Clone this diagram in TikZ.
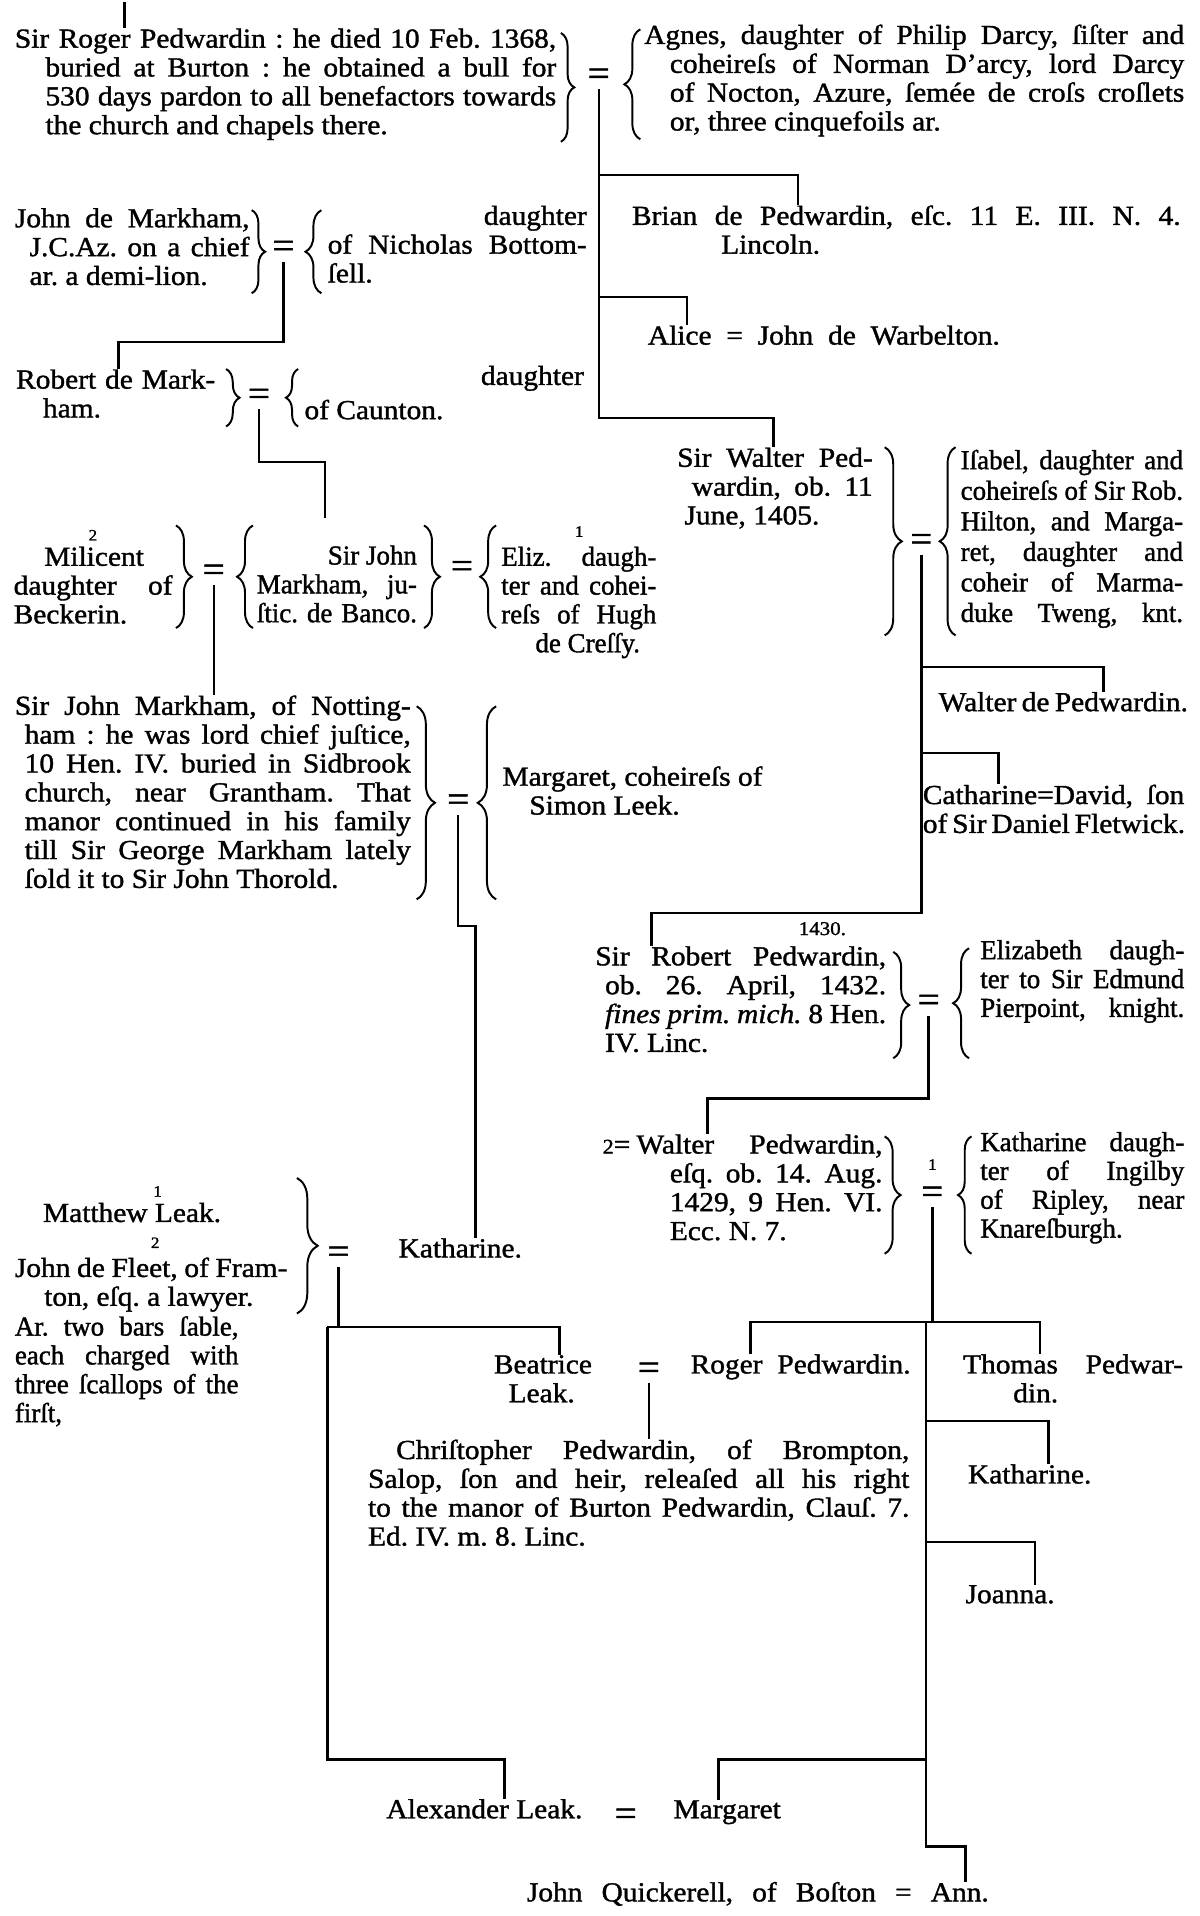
\documentclass[tikz,border=0pt]{standalone}
\usepackage{fontspec}
\setmainfont{Liberation Serif}[FakeStretch=1.07, FakeBold=1.3]
\newfontfamily\narrowfont{Liberation Serif}[FakeStretch=0.98, FakeBold=1.3]
\usetikzlibrary{decorations.pathreplacing}
\hbadness=10000 \hfuzz=300pt \vbadness=10000 \vfuzz=300pt

\newdimen\blkw
\newcommand\blk[3][23.6]{\vtop{\blkw=#2pt\baselineskip=#1pt\lineskiplimit=-40pt\lineskip=0pt #3}}
\newcommand\jline[2][0]{\hbox to\blkw{\hskip#1pt\relax #2}}
\newcommand\rline[2][0]{\hbox{\hskip#1pt\relax #2}}
\newcommand\rjline[1]{\hbox to\blkw{\hfil #1}}

\begin{document}
\begin{tikzpicture}[x=1pt, y=-1pt,
    every node/.style={inner sep=0pt, font=\fontsize{22.5}{23.6}\selectfont\frenchspacing},
    sup/.style={font=\fontsize{13}{14}\selectfont},
    eq/.style={font=\fontsize{30}{30}\selectfont},
    rule/.style={line width=2pt},
    rb/.style={decorate, decoration={brace, amplitude=#1}, line width=1.6pt},
    rb/.default=11pt,
    lb/.style={decorate, decoration={brace, mirror, amplitude=#1}, line width=1.6pt},
    lb/.default=11pt]
    \useasboundingbox (0,0) rectangle (982,1568);

    % Roger Pedwardin = Agnes
    \node[anchor=base west] (roger) at (12,39) {\blk{443}{%
        \jline{Sir Roger Pedwardin : he died 10 Feb. 1368,}
        \jline[25]{buried at Burton : he obtained a bull for}
        \jline[25]{530 days pardon to all benefactors towards}
        \rline[25]{the church and chapels there.}}};
    \draw[rb] (459,27) -- (459,116);
    \node[eq] (eqRA) at (490,63) {=};
    \draw[lb=13pt] (524,24) -- (524,114);
    \node[anchor=base west] (agnes) at (527,36) {\blk{442}{%
        \jline{Agnes, daughter of Philip Darcy, ſiſter and}
        \jline[21]{coheireſs of Norman D’arcy, lord Darcy}
        \jline[21]{of Nocton, Azure, ſemée de croſs croſlets}
        \rline[21]{or, three cinquefoils ar.}}};
    \coordinate (rgTop) at (102,2);
    \draw[rule] (rgTop) -- (rgTop |- roger.north);

    % children of Roger and Agnes
    \node[anchor=base west] (brian) at (517,184) {\blk{449}{%
        \jline{Brian de Pedwardin, eſc. 11 E. III. N. 4.}
        \rline[73]{Lincoln.}}};
    \node[anchor=base west] (alice) at (530,282) {\blk{288}{\jline{Alice = John de Warbelton.}}};
    \node[anchor=base east] (dau) at (478,315) {daughter};
    \node[anchor=base west] (walter) at (554,382) {\blk{160}{%
        \jline{Sir Walter Ped-}
        \jline[12]{wardin, ob. 11}
        \rline[6]{June, 1405.}}};
    \coordinate (brK) at (653,143);
    \coordinate (alK) at (562,243);
    \coordinate (wlK) at (633,342);
    \draw[rule, shorten <=3pt] (eqRA.south) |- (wlK) -- (wlK |- walter.north);
    \draw[rule] (eqRA.south |- brK) -- (brK) -- (brK |- brian.north);
    \draw[rule] (eqRA.south |- alK) -- (alK) -- (alK |- alice.north);

    % John de Markham = daughter of Nicholas Bottomsell
    \node[anchor=base west] (jmark) at (12,186) {\blk{192}{%
        \jline{John de Markham,}
        \jline[12]{J.C.Az. on a chief}
        \rline[12]{ar. a demi-lion.}}};
    \draw[rb] (206,172) -- (206,240);
    \node[eq] (eqJM) at (232,204) {=};
    \draw[lb=13pt] (263,172) -- (263,240);
    \node[anchor=base west] (nich) at (268,184) {\blk{212}{%
        \rjline{daughter}
        \jline{of Nicholas Bottom-}
        \rline{ſell.}}};

    % Robert de Markham = of Caunton
    \node[anchor=base west] (robert) at (13,318) {\blk{163}{%
        \jline{Robert de Mark-}
        \rline[22]{ham.}}};
    \coordinate (rbK) at (97,280);
    \draw[rule, shorten <=3pt] (eqJM.south) |- (rbK) -- (rbK |- robert.north);
    \draw[rb] (185,302) -- (185,349);
    \node[eq] (eqRM) at (212,325) {=};
    \draw[lb=10pt] (244,302) -- (244,349);
    \node[anchor=base west] (caunton) at (249,343) {of Caunton.};

    % Sir John Markham, justice
    \node[sup] (sup2a) at (76,438) {2};
    \node[anchor=base west] (milicent) at (11,463) {\blk{130}{%
        \rline[25]{Milicent}
        \jline{daughter of}
        \rline{Beckerin.}}};
    \draw[rb=13pt] (144,430) -- (144,514);
    \node[eq] (eqMJ) at (175,469) {=};
    \draw[lb=13pt] (207,430) -- (207,514);
    \node[anchor=base west] (sirjohn) at (210,462) {\blk{131}{\narrowfont
        \rjline{Sir John}
        \jline{Markham, ju-}
        \jline{ſtic. de Banco.}}};
    \draw[rb=13pt] (347,430) -- (347,514);
    \node[eq] (eqJE) at (378,466) {=};
    \draw[lb=13pt] (406,430) -- (406,514);
    \node[sup] (sup1a) at (474,435) {1};
    \node[anchor=base west] (eliz) at (410,463) {\blk{127}{\narrowfont
        \jline{Eliz. daugh-}
        \jline{ter and cohei-}
        \jline{reſs of Hugh}
        \rline[28]{de Creſſy.}}};
    \coordinate (sjK) at (266,378);
    \coordinate (sjE) at (266,424);
    \draw[rule, shorten <=3pt] (eqRM.south) |- (sjK) -- (sjE);

    % Sir Walter Pedwardin = Isabel
    \draw[rb=14pt] (724,366) -- (724,520);
    \node[eq] (eqWI) at (754,444) {=};
    \draw[lb=13pt] (782,366) -- (782,520);
    \node[anchor=base west] (isabel) at (786,384) {\blk[25]{182}{\narrowfont
        \jline{Iſabel, daughter and}
        \jline{coheireſs of Sir Rob.}
        \jline{Hilton, and Marga-}
        \jline{ret, daughter and}
        \jline{coheir of Marma-}
        \jline{duke Tweng, knt.}}};
    \node[anchor=base west] (wdp) at (768,582) {\blk{204}{\jline{Walter de Pedwardin.}}};
    \node[anchor=base west] (cath) at (755,658) {\blk{214}{%
        \jline{Catharine=David, ſon}
        \jline{of Sir Daniel Fletwick.}}};

    % Sir John Markham of Nottingham = Margaret
    \node[anchor=base west] (nott) at (12,585) {\blk{324}{%
        \jline{Sir John Markham, of Notting-}
        \jline[8]{ham : he was lord chief juſtice,}
        \jline[8]{10 Hen. IV. buried in Sidbrook}
        \jline[8]{church, near Grantham. That}
        \jline[8]{manor continued in his family}
        \jline[8]{till Sir George Markham lately}
        \rline[8]{ſold it to Sir John Thorold.}}};
    \draw[rule, shorten <=3pt] (eqMJ.south) -- (eqMJ.south |- nott.north);
    \draw[rb=15pt] (341,578) -- (341,736);
    \node[eq] (eqNM) at (375,657) {=};
    \draw[lb=15pt] (406,578) -- (406,736);
    \node[anchor=base west] (marg1) at (411,643) {\blk{220}{%
        \rline{Margaret, coheireſs of}
        \rline[22]{Simon Leek.}}};

    % Sir Robert Pedwardin = Elizabeth
    \node[sup, font=\fontsize{16}{16}\selectfont] (y1430) at (673,760) {1430.};
    \node[anchor=base west] (robped) at (487,790) {\blk{238}{%
        \jline{Sir Robert Pedwardin,}
        \jline[8]{ob. 26. April, 1432.}
        \jline[8]{\textit{fines prim. mich.} 8 Hen.}
        \rline[8]{IV. Linc.}}};
    \draw[rb=13pt] (731,779) -- (731,866);
    \node[eq] (eqRE) at (760,821) {=};
    \draw[lb=13pt] (793,776) -- (793,866);
    \node[anchor=base west] (elizp) at (802,785) {\blk{167}{\narrowfont
        \jline{Elizabeth daugh-}
        \jline{ter to Sir Edmund}
        \jline{Pierpoint, knight.}}};

    % Walter Pedwardin = Katharine
    \node[anchor=base west] (waltp) at (493,944) {\blk{229}{%
        \jline{{\fontsize{17}{17}\selectfont 2}=\hskip5pt Walter Pedwardin,}
        \jline[55]{eſq. ob. 14. Aug.}
        \jline[55]{1429, 9 Hen. VI.}
        \rline[55]{Ecc. N. 7.}}};
    \draw[rb=13pt] (724,930) -- (724,1026);
    \node[sup] (sup1b) at (763,953) {1};
    \node[eq] (eqWK) at (763,978) {=};
    \draw[lb=11pt] (795,930) -- (795,1026);
    \node[anchor=base west] (kathi) at (802,942) {\blk{167}{\narrowfont
        \jline{Katharine daugh-}
        \jline{ter of Ingilby}
        \jline{of Ripley, near}
        \rline{Knareſburgh.}}};

    % Matthew Leak, John de Fleet = Katharine
    \node[sup] (sup1c) at (129,975) {1};
    \node[anchor=base west] (matthew) at (35,1000) {Matthew Leak.};
    \node[sup] (sup2b) at (127,1017) {2};
    \node[anchor=base west] (fleet) at (12,1045) {\blk{223}{%
        \jline{John de Fleet, of Fram-}
        \rline[24]{ton, eſq. a lawyer.}}};
    \node[anchor=base west] (arms) at (12,1093) {\blk{183}{\narrowfont
        \jline{Ar. two bars ſable,}
        \jline{each charged with}
        \jline{three ſcallops of the}
        \rline{firſt,}}};
    \draw[rb=17pt] (243,964) -- (243,1075);
    \node[eq] (eqFK) at (277,1027) {=};
    \node[anchor=base west] (kathL) at (326,1029) {Katharine.};

    % next generation
    \node[anchor=base west] (beat) at (404,1124) {\blk{80}{%
        \rline{Beatrice}
        \rline[12]{Leak.}}};
    \node[eq] (eqBR) at (531,1122) {=};
    \node[anchor=base west] (roger2) at (565,1124) {\blk{180}{\jline{Roger Pedwardin.}}};
    \node[anchor=base west] (thomas) at (788,1124) {\blk{180}{%
        \jline{Thomas Pedwar-}
        \rline[41]{din.}}};
    \node[anchor=base west] (christ) at (301,1194) {\blk{443}{%
        \jline[23]{Chriſtopher Pedwardin, of Brompton,}
        \jline{Salop, ſon and heir, releaſed all his right}
        \jline{to the manor of Burton Pedwardin, Clauſ. 7.}
        \rline{Ed. IV. m. 8. Linc.}}};
    \node[anchor=base west] (kath2) at (792,1214) {Katharine.};
    \node[anchor=base west] (joanna) at (790,1312) {Joanna.};

    % last generation
    \node[anchor=base west] (alex) at (316,1488) {Alexander Leak.};
    \node[eq] (eqAM) at (512,1487) {=};
    \node[anchor=base west] (margaret) at (551,1488) {Margaret};
    \node[anchor=base west] (john) at (431,1556) {\blk{378}{\jline{John Quickerell, of Boſton = Ann.}}};

    % descent lines
    \coordinate (wdK) at (903,546);
    \coordinate (caK) at (817,616);
    \coordinate (spK) at (533,747);
    \coordinate (kaJ) at (389,758);
    \coordinate (wpK) at (579,899);
    \coordinate (rgK) at (614,1082);
    \coordinate (thK) at (851,1082);
    \coordinate (trunk) at (758,1082);
    \coordinate (k2K) at (858,1163);
    \coordinate (joK) at (847,1262);
    \coordinate (mgK) at (588,1440);
    \coordinate (anK) at (790,1511);
    \coordinate (lt) at (268,1086);
    \coordinate (btK) at (458,1086);
    \coordinate (axK) at (413,1440);
    \draw[rule, shorten <=3pt] (eqWI.south) |- (spK) -- (spK |- robped.north);
    \draw[rule] (eqWI.south |- wdK) -- (wdK) -- (wdK |- wdp.north);
    \draw[rule] (eqWI.south |- caK) -- (caK) -- (caK |- cath.north);
    \draw[rule, shorten <=3pt] (eqNM.south) |- (kaJ) -- (kaJ |- kathL.north);
    \draw[rule, shorten <=3pt] (eqRE.south) |- (wpK) -- (wpK |- waltp.north);
    \draw[rule, shorten <=3pt] (eqWK.south) -- (eqWK.south |- rgK);
    \draw[rule] (rgK |- roger2.north) -- (rgK) -- (thK) -- (thK |- thomas.north);
    \draw[rule] (trunk) |- (mgK) -- (mgK |- margaret.north);
    \draw[rule] (trunk |- mgK) |- (anK) -- (anK |- john.north);
    \draw[rule] (trunk |- k2K) -- (k2K) -- (k2K |- kath2.north);
    \draw[rule] (trunk |- joK) -- (joK) -- (joK |- joanna.north);
    \draw[rule, shorten <=3pt] (eqFK.south) -- (eqFK.south |- btK);
    \draw[rule] (lt) -- (btK) -- (btK |- beat.north);
    \draw[rule] (lt) |- (axK) -- (axK |- alex.north);
    \draw[rule, shorten <=3pt] (eqBR.south) -- (eqBR.south |- christ.north);
\end{tikzpicture}
\end{document}
